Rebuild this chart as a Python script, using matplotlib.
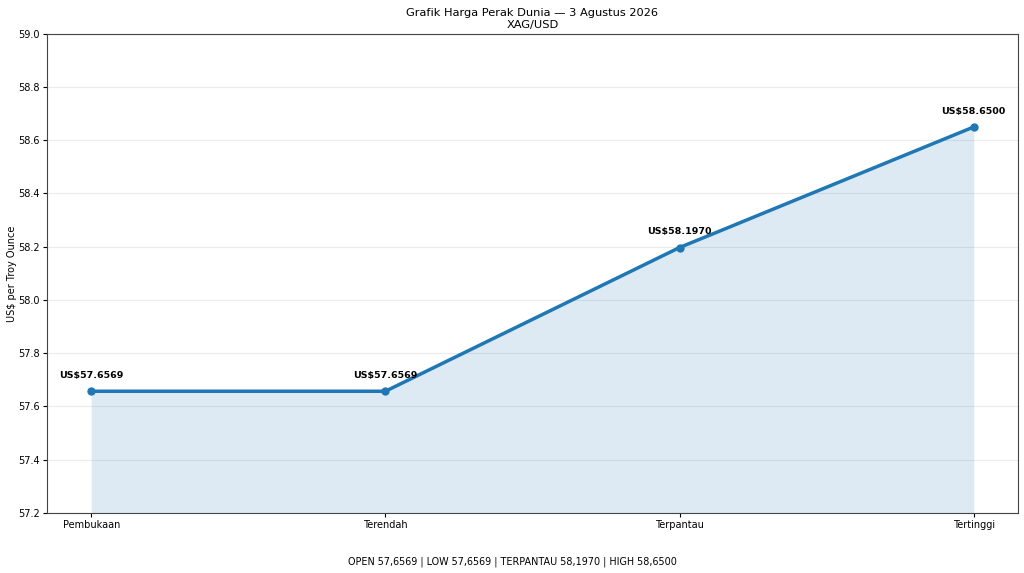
import matplotlib.pyplot as plt

# Data
labels = ['Pembukaan', 'Terendah', 'Terpantau', 'Tertinggi']
prices = [57.6569, 57.6569, 58.1970, 58.6500]
footer = 'OPEN 57,6569 | LOW 57,6569 | TERPANTAU 58,1970 | HIGH 58,6500'

fig, ax = plt.subplots(figsize=(10.24, 5.73), dpi=100)
fig.subplots_adjust(left=0.046, right=0.994, top=0.941, bottom=0.105)

x = list(range(len(labels)))
ax.plot(x, prices, marker='o', color='#1f77b4', linewidth=2.5, markersize=5)
ax.fill_between(x, prices, 57.2, color='#1f77b4', alpha=0.15, linewidth=0)

for xi, p in zip(x, prices):
    ax.annotate(f'US${p:.4f}', (xi, p), xytext=(0, 8), textcoords='offset points',
                ha='center', va='bottom', fontsize=6.8, fontweight='bold')

ax.set_ylim(57.2, 59.0)
ax.set_xticks(x)
ax.set_xticklabels(labels)
ax.tick_params(labelsize=7, length=2.6, pad=2.4)
ax.set_ylabel('US$ per Troy Ounce', fontsize=7, labelpad=1)
ax.set_title('Grafik Harga Perak Dunia — 3 Agustus 2026\nXAG/USD', fontsize=8.2,
             pad=4, linespacing=1.25)
ax.grid(axis='y', alpha=0.25)
ax.set_axisbelow(True)
for s in ax.spines.values():
    s.set_color('#444444')

fig.text(0.5, 0.014, footer, ha='center', fontsize=6.9)

fig.savefig('out.png', dpi=100)
